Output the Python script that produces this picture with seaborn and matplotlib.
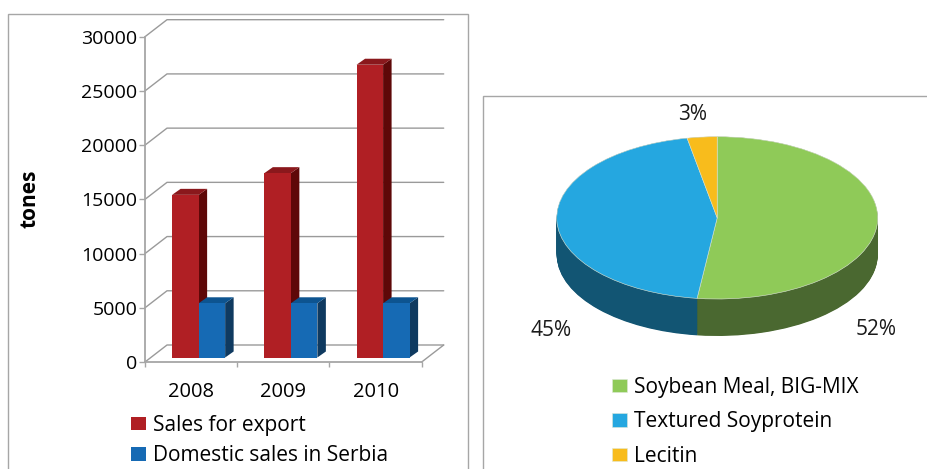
import matplotlib
matplotlib.use("Agg")
import matplotlib.pyplot as plt
from matplotlib.patches import Polygon, Rectangle
import seaborn as sns
import numpy as np
import pandas as pd

years = ["2008", "2009", "2010"]
export_sales = [15000, 17000, 27000]
domestic_sales = [5000, 5000, 5000]
bar_names = ["Sales for export", "Domestic sales in Serbia"]
y_ticks = [0, 5000, 10000, 15000, 20000, 25000, 30000]

pie_names = ["Soybean Meal, BIG-MIX", "Textured Soyprotein", "Lecitin"]
pie_values = [52, 45, 3]

W, H = 928, 469
FONT = "Open Sans"

sns.set_theme(style="white")
plt.rcParams["font.family"] = [FONT, "DejaVu Sans"]

fig = plt.figure(figsize=(W / 100, H / 100), dpi=100)


def box(x0, y0, x1, y1):
    # pixel box (top-left origin) to figure fractions
    return [x0 / W, 1 - y1 / H, (x1 - x0) / W, (y1 - y0) / H]


# panel frames
for x0, y0, x1 in [(8, 14, 468), (483, 96, 928)]:
    fig.add_artist(Rectangle((x0 / W, -0.05), (x1 - x0) / W, 1.05 - y0 / H,
                             transform=fig.transFigure, fill=False,
                             ec="#a6a6a6", lw=1.0))

# ---- left: bars ----
ax = fig.add_axes(box(145, 36.7, 421.7, 362))
df = pd.DataFrame({
    "year": years * 2,
    "tones": export_sales + domestic_sales,
    "kind": [bar_names[0]] * 3 + [bar_names[1]] * 3,
})
bar_cols = ["#B01F24", "#166AB4"]
sns.barplot(data=df, x="year", y="tones", hue="kind", hue_order=bar_names,
            palette=bar_cols, saturation=1, width=0.575, gap=0, ax=ax,
            linewidth=0, zorder=5)
ax.set_xlim(-0.5, 2.5)
ax.set_ylim(0, 30000)
ux = 1 / 92.2  # data units per pixel
uy = 30000 / 325.3

# back wall and floor
wall_dx, wall_dy = 22 * ux, 17 * uy
grid_col = "#9a9a9a"
for t in y_ticks:
    ax.plot([-0.5, -0.5 + wall_dx, 2.5 + wall_dx], [t, t + wall_dy, t + wall_dy],
            color=grid_col, lw=1.0, clip_on=False, zorder=1)
ax.plot([2.5, 2.5 + wall_dx], [0, wall_dy], color=grid_col, lw=1.0, clip_on=False, zorder=1)

# fake 3d sides on the bars
shift_x, lift = 7.5 * ux, 4.5 * uy
side_dx, side_dy = 8.5 * ux, 6 * uy
side_cols = ["#5E0808", "#0F3A60"]
top_cols = ["#8A181C", "#0D5490"]
for k, cont in enumerate(ax.containers):
    for bar in cont:
        bar.set_x(bar.get_x() + shift_x)
        bar.set_y(lift)
        bar.set_clip_on(False)
        x0, x1 = bar.get_x(), bar.get_x() + bar.get_width()
        y0, y1 = lift, lift + bar.get_height()
        zb = 3 if k == 0 else 6
        bar.set_zorder(8 if k == 0 else 7)
        ax.add_patch(Polygon([(x1, y0), (x1 + side_dx, y0 + side_dy),
                              (x1 + side_dx, y1 + side_dy), (x1, y1)],
                             fc=side_cols[k], lw=0, clip_on=False, zorder=zb))
        ax.add_patch(Polygon([(x0, y1), (x0 + side_dx, y1 + side_dy),
                              (x1 + side_dx, y1 + side_dy), (x1, y1)],
                             fc=top_cols[k], lw=0, clip_on=False, zorder=zb))

sns.despine(ax=ax, top=True, right=True)
for s in ["left", "bottom"]:
    ax.spines[s].set_color("#a6a6a6")
    ax.spines[s].set_linewidth(1.3)
ax.set_yticks(y_ticks)
ax.set_xticks([-0.5, 0.5, 1.5, 2.5], labels=[])
ax.tick_params(axis="y", length=4, width=1, color="#a6a6a6", pad=1.5,
               left=True, labelsize=14, labelcolor="black")
ax.tick_params(axis="x", length=3.5, width=1, color="#a6a6a6", bottom=True)
ax.set_xlabel("")
ax.set_ylabel("")
for i, y in enumerate(years):
    ax.text(i, -29.5 * uy, y, ha="center", va="center", fontsize=14.5, color="black")
fig.text(30 / W, 1 - 199 / H, "tones", rotation=90, ha="center", va="center",
         fontsize=15, fontweight="bold", color="black")

leg_kw = dict(loc="upper left", frameon=False, borderpad=0, borderaxespad=0,
              handlelength=0.72, handleheight=0.6, handletextpad=0.33,
              fontsize=15, labelcolor="black")
handles, labels = ax.get_legend_handles_labels()
ax.legend(handles, labels, bbox_to_anchor=(131 / W, 1 - 415 / H),
          bbox_transform=fig.transFigure, labelspacing=0.45, **leg_kw)

# ---- right: pie ----
pax = fig.add_axes(box(556.7, 136.7, 877.7, 299))
pax.patch.set_alpha(0)
top_cols_pie = ["#8FCA58", "#25A7E0", "#F8BC1C"]
dark_cols_pie = ["#4A6830", "#125573", "#7A5E10"]
depth = 37 / 81.15
for off in np.linspace(depth, 0.0, 60):
    pax.pie(pie_values, colors=dark_cols_pie, startangle=90, counterclock=False,
            center=(0, -off), wedgeprops=dict(lw=0))
wedges, _ = pax.pie(pie_values, colors=top_cols_pie, startangle=90, counterclock=False,
                    wedgeprops=dict(lw=0.4, ec="#dfe8d8"))
pax.set_aspect("auto")
pax.set_xlim(-1, 1)
pax.set_ylim(-1, 1)
for w in pax.patches:
    w.set_clip_on(False)

for val, (tx, ty) in zip(pie_values, [(876, 329), (551, 330), (693, 115)]):
    fig.text(tx / W, 1 - ty / H, f"{val}%", ha="center", va="center",
             fontsize=15, color="#1a1a1a")

fig.legend(wedges, pie_names, bbox_to_anchor=(612 / W, 1 - 377 / H),
           labelspacing=0.64, **leg_kw)

fig.savefig("out.png", dpi=100)
